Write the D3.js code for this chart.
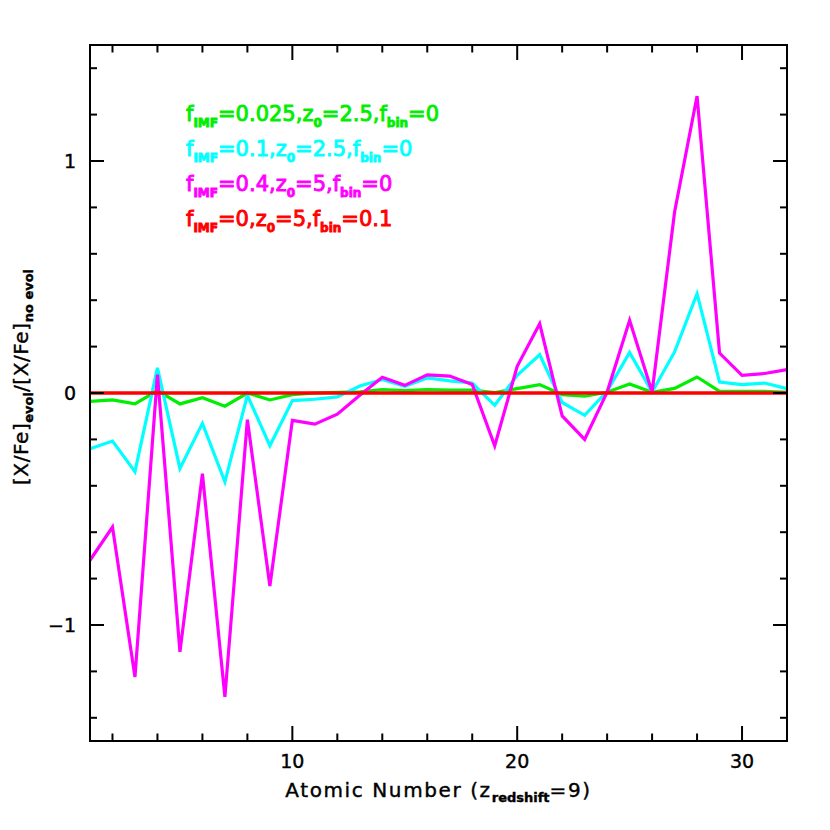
<!DOCTYPE html>
<html>
<head>
<meta charset="utf-8">
<script src="https://cdn.jsdelivr.net/npm/d3@7/dist/d3.min.js"></script>
<style>
  body { margin: 0; background: #fff; }
  svg { display: block; }
  text { font-family: "DejaVu Sans", sans-serif; }
</style>
</head>
<body>
<svg id="chart" width="830" height="830"></svg>
<script>
// Atomic numbers Z = 1..32
const atomicNumbers = d3.range(1, 33);

// [X/Fe]_evol/[X/Fe]_no evol for each model
const greenValues = [-0.036, -0.030, -0.047, 0.010, -0.047, -0.020, -0.057, 0.000, -0.030, -0.007,
  0.000, 0.003, 0.005, 0.015, 0.010, 0.015, 0.012, 0.012, 0.002, 0.019,
  0.036, -0.007, -0.014, 0.003, 0.039, 0.003, 0.020, 0.069, 0.007, 0.007,
  0.007, 0.003];
const cyanValues = [-0.240, -0.207, -0.339, 0.108, -0.325, -0.131, -0.383, -0.010, -0.227, -0.033,
  -0.027, -0.017, 0.030, 0.058, 0.029, 0.065, 0.052, 0.043, -0.053, 0.076,
  0.165, -0.041, -0.096, 0.007, 0.175, 0.004, 0.177, 0.428, 0.047, 0.036,
  0.043, 0.019];
const magentaValues = [-0.721, -0.578, -1.224, 0.079, -1.116, -0.348, -1.310, -0.115, -0.832, -0.118,
  -0.134, -0.091, -0.010, 0.068, 0.033, 0.078, 0.073, 0.037, -0.228, 0.115,
  0.299, -0.099, -0.200, 0.004, 0.313, 0.004, 0.780, 1.280, 0.172, 0.076,
  0.084, 0.101];
const redValues = atomicNumbers.map(() => 0);

const seriesNames = ["green", "cyan", "magenta", "red"];
const seriesColors = ["#00ee00", "#00ffff", "#ff00ff", "#ff0000"];
const seriesValues = [greenValues, cyanValues, magentaValues, redValues];
// legend: [f_IMF, z_0, f_bin]
const legendParams = [["0.025", "2.5", "0"], ["0.1", "2.5", "0"], ["0.4", "5", "0"], ["0", "5", "0.1"]];

const xTickLabels = [10, 20, 30];
const yTickLabels = [-1, 0, 1];

const svg = d3.select("#chart");
const pLeft = 90, pRight = 787, pTop = 45, pBottom = 741;

const x = d3.scaleLinear().domain([1, 32]).range([pLeft, pRight]);
const y = d3.scaleLinear().domain([-1.5, 1.5]).range([pBottom, pTop]);

// lines
const line = d3.line().x((d, i) => x(atomicNumbers[i])).y(d => y(d));
[0, 1, 2, 3].forEach(k => {
  svg.append("path")
    .datum(seriesValues[k])
    .attr("fill", "none")
    .attr("stroke", seriesColors[k])
    .attr("stroke-width", k === 3 ? 3.5 : 3.2)
    .attr("stroke-linejoin", "miter")
    .attr("d", line);
});

// frame
svg.append("rect")
  .attr("x", pLeft).attr("y", pTop)
  .attr("width", pRight - pLeft).attr("height", pBottom - pTop)
  .attr("fill", "none").attr("stroke", "#000").attr("stroke-width", 2);

// ticks (inward on all sides)
const xMinor = d3.range(2, 33, 2);
const xMajor = [10, 20, 30];
const yMinor = d3.range(-14, 15, 2).map(v => v / 10);
const yMajor = [-1, 0, 1];
const tk = svg.append("g").attr("stroke", "#000").attr("stroke-width", 2);
xMinor.forEach(v => {
  const len = xMajor.includes(v) ? 15 : 7.5;
  tk.append("line").attr("x1", x(v)).attr("x2", x(v)).attr("y1", pBottom).attr("y2", pBottom - len);
  tk.append("line").attr("x1", x(v)).attr("x2", x(v)).attr("y1", pTop).attr("y2", pTop + len);
});
yMinor.forEach(v => {
  const len = yMajor.some(m => Math.abs(m - v) < 1e-9) ? 14 : 7;
  tk.append("line").attr("x1", pLeft).attr("x2", pLeft + len).attr("y1", y(v)).attr("y2", y(v));
  tk.append("line").attr("x1", pRight).attr("x2", pRight - len).attr("y1", y(v)).attr("y2", y(v));
});

// tick labels
svg.append("g").selectAll("text").data(xTickLabels).join("text")
  .attr("x", d => x(d)).attr("y", 768)
  .attr("text-anchor", "middle")
  .attr("font-size", 19)
  .attr("stroke", "#000").attr("stroke-width", 0.4)
  .text(d => d);
svg.append("g").selectAll("text").data(yTickLabels).join("text")
  .attr("x", 76).attr("y", d => y(d)).attr("dy", "0.36em")
  .attr("text-anchor", "end")
  .attr("font-size", 19)
  .attr("stroke", "#000").attr("stroke-width", 0.4)
  .text(d => d < 0 ? "\u2212" + Math.abs(d) : d);

// axis titles
const xt = svg.append("text")
  .attr("x", (pLeft + pRight) / 2).attr("y", 797)
  .attr("text-anchor", "middle").attr("font-size", 20)
  .attr("stroke", "#000").attr("stroke-width", 0.4)
  .attr("letter-spacing", 1.6);
xt.append("tspan").text("Atomic Number (z");
xt.append("tspan").attr("dy", 5).attr("font-size", 13).attr("font-weight", "bold").attr("letter-spacing", 0).text("redshift");
xt.append("tspan").attr("dy", -5).text("=9)");

const yt = svg.append("text")
  .attr("transform", "translate(28,377) rotate(-90)")
  .attr("text-anchor", "middle").attr("font-size", 20)
  .attr("stroke", "#000").attr("stroke-width", 0.4)
  .attr("letter-spacing", 0.6);
yt.append("tspan").text("[X/Fe]");
yt.append("tspan").attr("dy", 5).attr("font-size", 13).attr("font-weight", "bold").attr("letter-spacing", 0).text("evol");
yt.append("tspan").attr("dy", -5).text("/[X/Fe]");
yt.append("tspan").attr("dy", 5).attr("font-size", 13).attr("font-weight", "bold").attr("letter-spacing", 0).text("no evol");

// legend
legendParams.forEach((p, i) => {
  const t = svg.append("text")
    .attr("x", 186).attr("y", 121 + i * 35)
    .attr("font-size", 21)
    .attr("letter-spacing", 0)
    .attr("fill", seriesColors[i])
    .attr("stroke", seriesColors[i]).attr("stroke-width", 0.9);
  t.append("tspan").text("f");
  t.append("tspan").attr("dy", 6).attr("font-size", 12).attr("font-weight", "bold").text("IMF");
  t.append("tspan").attr("dy", -6).text("=" + p[0] + ",z");
  t.append("tspan").attr("dy", 6).attr("font-size", 12).attr("font-weight", "bold").text("0");
  t.append("tspan").attr("dy", -6).text("=" + p[1] + ",f");
  t.append("tspan").attr("dy", 6).attr("font-size", 12).attr("font-weight", "bold").text("bin");
  t.append("tspan").attr("dy", -6).text("=" + p[2]);
});
</script>
</body>
</html>
